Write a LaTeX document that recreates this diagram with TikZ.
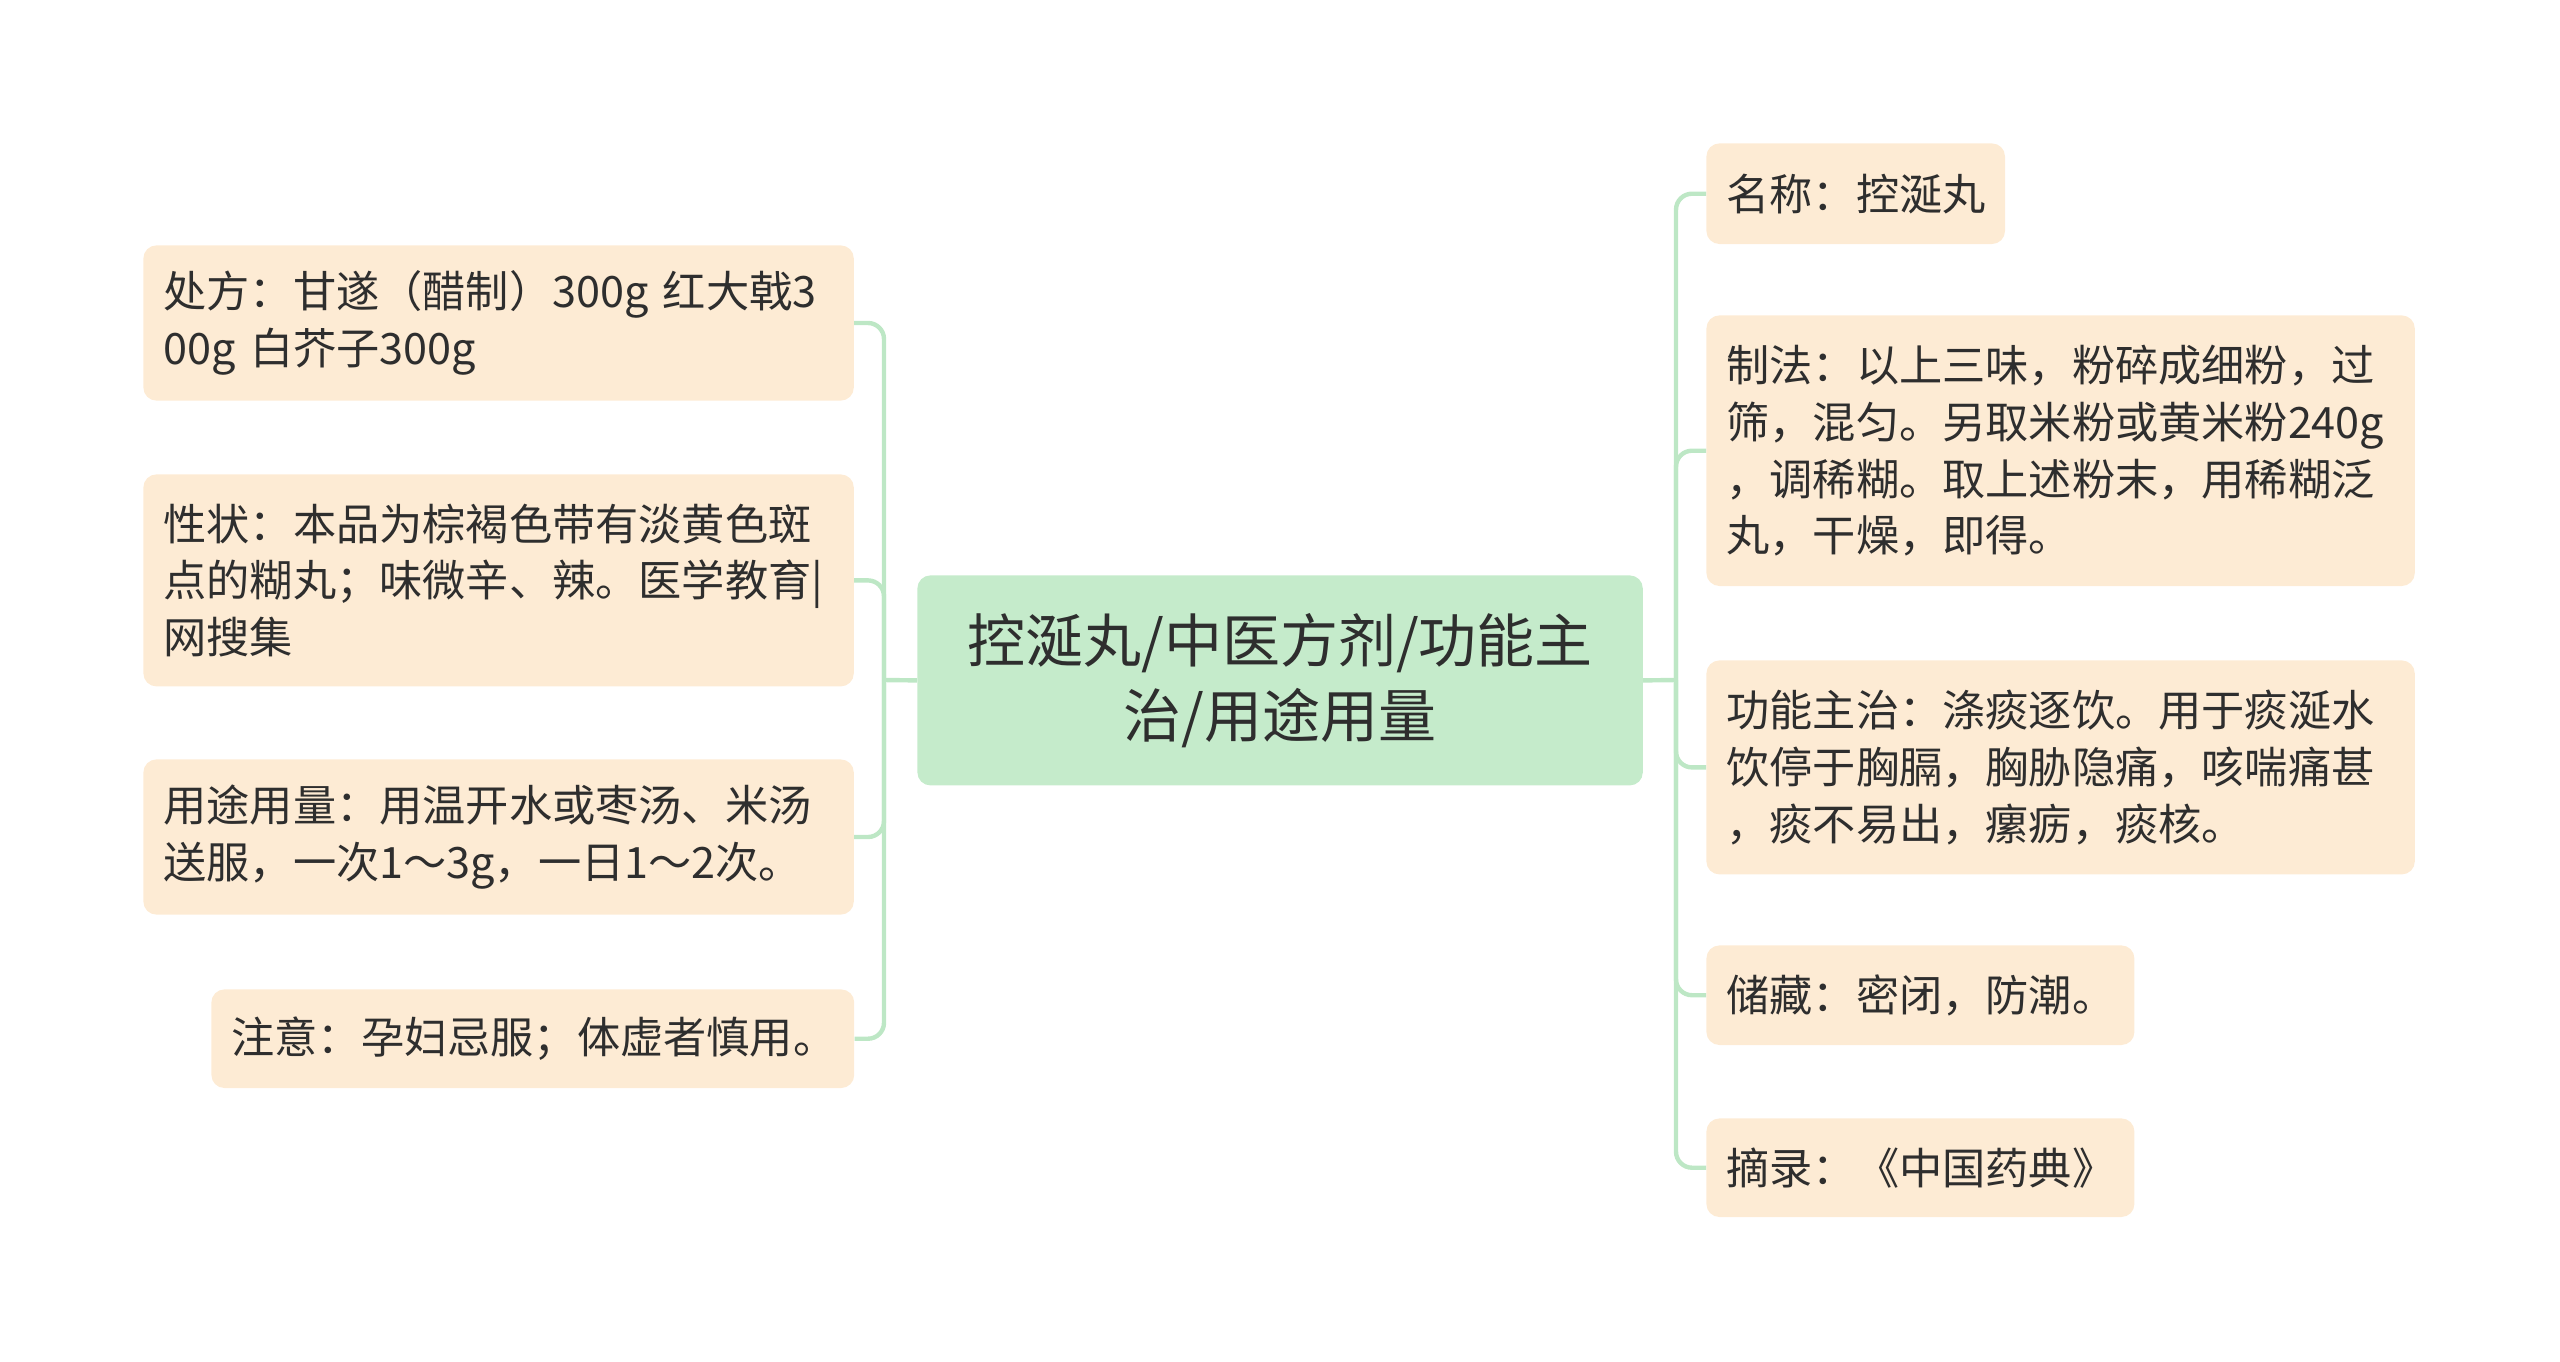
\documentclass[tikz,border=0pt]{standalone}
\usepackage{fontspec}
\setmainfont{Noto Sans CJK SC}
\usepackage{tikz}

\definecolor{leaffill}{HTML}{FDEBD4}
\definecolor{rootfill}{HTML}{C5EBCB}
\definecolor{linkgreen}{HTML}{BDE7C5}
\definecolor{textgray}{HTML}{2E2E2E}

\begin{document}
\begin{tikzpicture}[x=0.5pt,y=-0.5pt,
	leaf/.style={fill=leaffill, rounded corners=6.5pt, anchor=north west, align=left, inner xsep=10pt, inner ysep=0pt, text=textgray, font=\fontsize{21.6pt}{28.4pt}\selectfont},
	root/.style={fill=rootfill, rounded corners=6.5pt, anchor=north west, align=center, inner sep=0pt, text=textgray, font=\fontsize{29pt}{37.5pt}\selectfont},
	link/.style={draw=linkgreen, line width=2.2pt, rounded corners=8pt}]
	\useasboundingbox (0,0) rectangle (2560,1361);

	\node (root) at (917,575) [root, minimum width=362.7pt, minimum height=105pt] {控涎丸/中医方剂/功能主\\治/用途用量};

		\node (chufang) at (143,245) [leaf, text width=335.2pt, minimum height=77.6pt] {处方：甘遂（醋制）300g 红大戟3\\00g 白芥子300g};
		\node (xingzhuang) at (143,474) [leaf, text width=335.2pt, minimum height=106pt] {性状：本品为棕褐色带有淡黄色斑\\点的糊丸；味微辛、辣。医学教育|\\网搜集};
		\node (yongtu) at (143,759) [leaf, text width=335.2pt, minimum height=77.6pt] {用途用量：用温开水或枣汤、米汤\\送服，一次1～3g，一日1～2次。};
		\node (zhuyi) at (211,989) [leaf, text width=301.4pt, minimum height=49.3pt] {注意：孕妇忌服；体虚者慎用。};

		\node (mingcheng) at (1706,143) [leaf, text width=129.3pt, minimum height=50.3pt] {名称：控涎丸};
		\node (zhifa) at (1706,315) [leaf, text width=334.2pt, minimum height=135.3pt] {制法：以上三味，粉碎成细粉，过\\筛，混匀。另取米粉或黄米粉240g\\，调稀糊。取上述粉末，用稀糊泛\\丸，干燥，即得。};
		\node (gongneng) at (1706,660) [leaf, text width=334.2pt, minimum height=107pt] {功能主治：涤痰逐饮。用于痰涎水\\饮停于胸膈，胸胁隐痛，咳喘痛甚\\，痰不易出，瘰疬，痰核。};
		\node (chucang) at (1706,945) [leaf, text width=194pt, minimum height=49.8pt] {储藏：密闭，防潮。};
		\node (zhailu) at (1706,1118) [leaf, text width=194pt, minimum height=49.3pt] {摘录：《中国药典》};

	\coordinate (forkL) at (884,680);
	\coordinate (forkR) at (1676,680);

	\draw[link] (root.west) -- (forkL);
	\draw[link] (forkL) |- (chufang.east);
	\draw[link] (forkL) |- (xingzhuang.east);
	\draw[link] (forkL) |- (yongtu.east);
	\draw[link] (forkL) |- (zhuyi.east);

	\draw[link] (root.east) -- (forkR);
	\draw[link] (forkR) |- (mingcheng.west);
	\draw[link] (forkR) |- (zhifa.west);
	\draw[link] (forkR) |- (gongneng.west);
	\draw[link] (forkR) |- (chucang.west);
	\draw[link] (forkR) |- (zhailu.west);
\end{tikzpicture}
\end{document}
